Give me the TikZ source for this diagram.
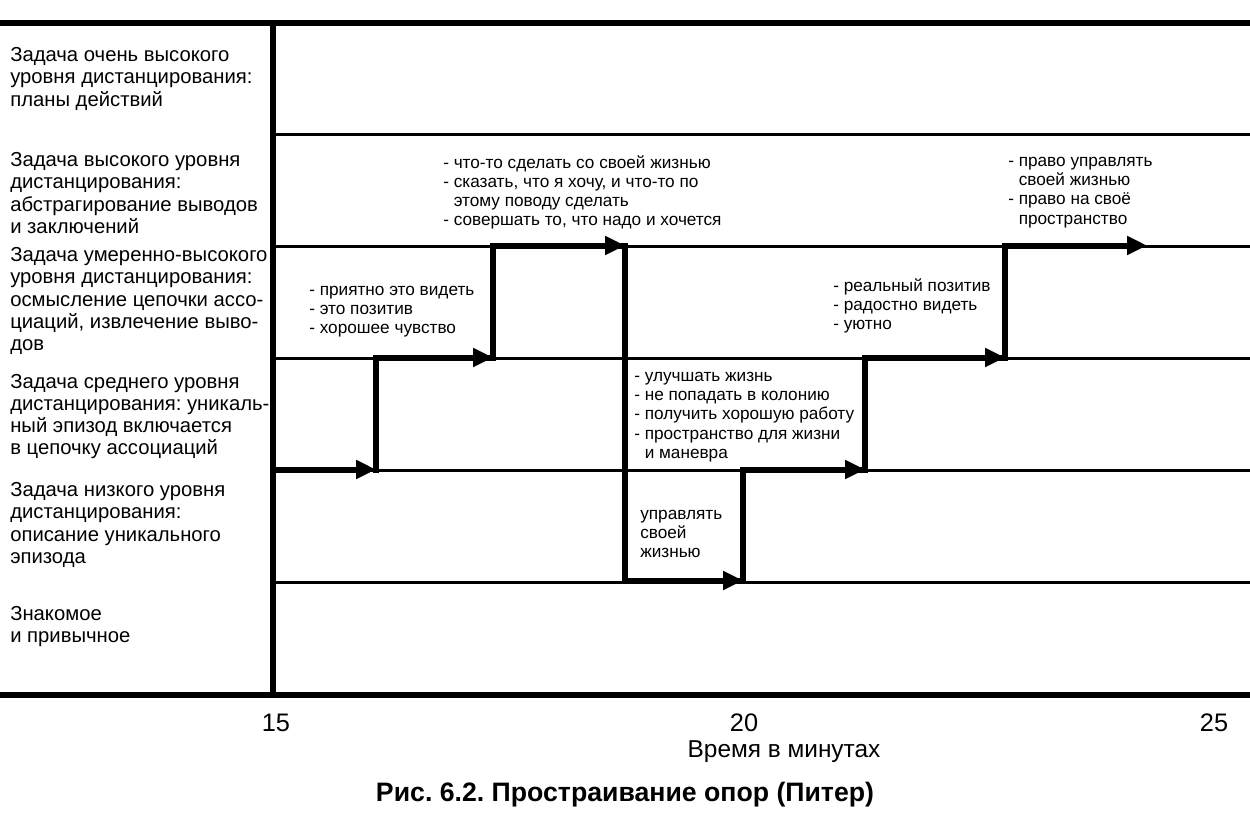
\documentclass[tikz,border=0pt]{standalone}
\usepackage{fontspec}
\setmainfont{Liberation Sans}
\usetikzlibrary{arrows.meta}
\frenchspacing
\begin{document}
\begin{tikzpicture}[x=0.75pt,y=-0.75pt,
  frame/.style={line width=4.5pt},
  grid/.style={line width=2.25pt},
  route/.style={line width=4.5pt,line join=miter,line cap=rect},
  tip/.style={line width=4.5pt,-{Triangle[length=15pt,width=13.5pt]}},
  level/.style={anchor=base west,inner sep=0pt,align=left,font=\fontsize{15.2pt}{16.7pt}\selectfont},
  note/.style={anchor=base west,inner sep=0pt,align=left,font=\fontsize{12.9pt}{14.4pt}\selectfont},
  tick/.style={anchor=base,inner sep=0pt,font=\fontsize{19pt}{21pt}\selectfont}]
\useasboundingbox (0,0) rectangle (1250,829);
\fill[white] (0,0) rectangle (1250,829);
% frame
\coordinate (tl) at (0,22.5);
\coordinate (tr) at (1250,22.5);
\coordinate (bl) at (0,695);
\coordinate (br) at (1250,695);
\coordinate (vt) at (273,22.5);
\coordinate (vb) at (273,695);
\foreach \n/\y in {1/134.6,2/246.7,3/358.7,4/470.8,5/582.9}{
  \coordinate (g\n l) at (273,\y);
  \coordinate (g\n r) at (1250,\y);
  \draw[grid] (g\n l) -- (g\n r);
}
\draw[frame] (tl) -- (tr);
\draw[frame] (bl) -- (br);
\draw[frame] (vt) -- (vb);
% route
\coordinate (p0) at (273,469.5);
\coordinate (p1) at (376,469.5);
\coordinate (p2) at (376,357.5);
\coordinate (p3) at (493,357.5);
\coordinate (p4) at (493,245.5);
\coordinate (p5) at (625,245.5);
\coordinate (p6) at (625,580.5);
\coordinate (p7) at (743,580.5);
\coordinate (p8) at (743,469.5);
\coordinate (p9) at (865,469.5);
\coordinate (p10) at (865,357.5);
\coordinate (p11) at (1005,357.5);
\coordinate (p12) at (1005,245.5);
\coordinate (p13) at (1147,245.5);
\draw[route] (p1) -- (p2) -- (p3) -- (p4) -- (p5) -- (p6) -- (p7) -- (p8) -- (p9) -- (p10) -- (p11) -- (p12) -- (p13 -| p12);
\draw[tip] (p0) -- (p1);
\draw[tip] (p2) -- (p3);
\draw[tip] (p4) -- (p5);
\draw[tip] (p6) -- (p7);
\draw[tip] (p8) -- (p9);
\draw[tip] (p10) -- (p11);
\draw[tip] (p12) -- (p13);
% level labels (anchored at the baseline of their last line)
\node[level] (L1) at (10,106.0) {Задача очень высокого\\уровня дистанцирования:\\планы действий};
\node[level] (L2) at (10,233.3) {Задача высокого уровня\\дистанцирования:\\абстрагирование выводов\\и заключений};
\node[level] (L3) at (10,350.6) {Задача умеренно-высокого\\уровня дистанцирования:\\осмысление цепочки ассо-\\циаций, извлечение выво-\\дов};
\node[level] (L4) at (10,454.8) {Задача среднего уровня\\дистанцирования: уникаль-\\ный эпизод включается\\в цепочку ассоциаций};
\node[level] (L5) at (10,563.3) {Задача низкого уровня\\дистанцирования:\\описание уникального\\эпизода};
\node[level] (L6) at (10,642.3) {Знакомое\\и привычное};
% notes
\node[note] (A) at (309,333.4) {- приятно это видеть\\- это позитив\\- хорошее чувство};
\node[note] (B) at (443,225.6) {- что-то сделать со своей жизнью\\- сказать, что я хочу, и что-то по\\\phantom{- }этому поводу сделать\\- совершать то, что надо и хочется};
\node[note] (C) at (634,458.3) {- улучшать жизнь\\- не попадать в колонию\\- получить хорошую работу\\- пространство для жизни\\\phantom{- }и маневра};
\node[note] (D) at (640,557.4) {управлять\\своей\\жизнью};
\node[note] (E) at (833,329.9) {- реальный позитив\\- радостно видеть\\- уютно};
\node[note] (F) at (1008,224.1) {- право управлять\\\phantom{- }своей жизнью\\- право на своё\\\phantom{- }пространство};
% axis
\node[tick] (t15) at (276,731) {15};
\node[tick] (t20) at (744,731) {20};
\node[tick] (t25) at (1214,731) {25};
\node[anchor=base,inner sep=0pt,font=\fontsize{18.3pt}{20pt}\selectfont] (xl) at (784,757.5) {Время в минутах};
\node[anchor=base,inner sep=0pt,font=\fontsize{20pt}{22pt}\selectfont\bfseries] (cap) at (625,801) {Рис. 6.2. Простраивание опор (Питер)};
\end{tikzpicture}
\end{document}
